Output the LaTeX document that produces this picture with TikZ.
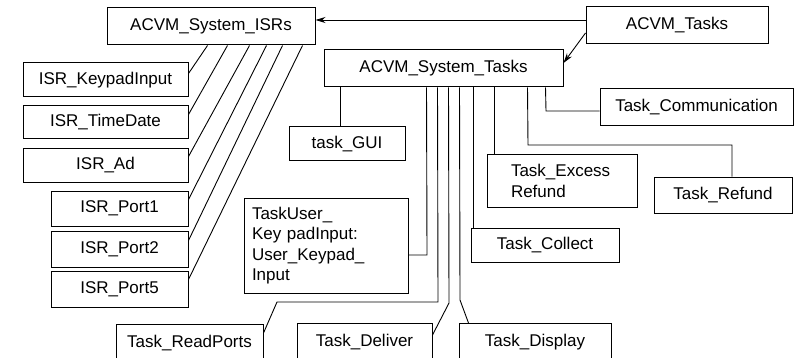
\documentclass[tikz,border=0pt]{standalone}
\usepackage{fontspec}
\setmainfont{Liberation Sans}
\usetikzlibrary{calc,arrows.meta}
\begin{document}
\begin{tikzpicture}[x=1pt,y=-1pt,
  blk/.style={draw, line width=1pt, inner sep=0pt, font=\fontsize{17}{20.5}\selectfont},
  cutblk/.style={blk, anchor=north, text height=12.5pt, text depth=30pt, inner ysep=10pt},
  wire/.style={line width=0.9pt},
  arr/.style={wire,-{Stealth[length=10pt,width=6pt]}}]
\useasboundingbox (0,0) rectangle (794,358);
\clip (0,0) rectangle (794,358);

% top level
\node[blk, minimum width=208, minimum height=37] (isrs) at (211,26.5) {ACVM\_System\_ISRs};
\node[blk, minimum width=182, minimum height=37] (tasks) at (677,25.5) {ACVM\_Tasks};
\node[blk, minimum width=239, minimum height=37] (sys) at (443.5,68.5) {ACVM\_System\_Tasks};

% ISRs
\node[blk, minimum width=165, minimum height=34] (kp) at (105.5,80) {ISR\_KeypadInput};
\node[blk, minimum width=165, minimum height=33] (td) at (105.5,122.5) {ISR\_TimeDate};
\node[blk, minimum width=165, minimum height=33] (ad) at (105.5,165.5) {ISR\_Ad};
\node[blk, minimum width=137, minimum height=35] (p1) at (119.5,208.5) {ISR\_Port1};
\node[blk, minimum width=137, minimum height=36] (p2) at (119.5,249) {ISR\_Port2};
\node[blk, minimum width=137, minimum height=36] (p5) at (119.5,289) {ISR\_Port5};

% tasks
\node[blk, minimum width=116, minimum height=34] (gui) at (347,144) {task\_GUI};
\node[blk, minimum width=164, minimum height=95, text width=148, align=left] (tu) at (326,245.5)
  {TaskUser\_\\Key padInput:\\User\_Keypad\_\\Input};
\node[blk, minimum width=193, minimum height=37] (comm) at (696.5,107.5) {Task\_Communication};
\node[blk, minimum width=150, minimum height=52, text width=102, align=left] (exc) at (562,181)
  {Task\_Excess\\Refund};
\node[blk, minimum width=138, minimum height=36] (ref) at (723,195) {Task\_Refund};
\node[blk, minimum width=148, minimum height=34] (coll) at (545,245) {Task\_Collect};
\node[cutblk, minimum width=147] (rp) at (189.5,324) {Task\_ReadPorts};
\node[cutblk, minimum width=135] (del) at (364.5,323) {Task\_Deliver};
\node[cutblk, minimum width=152] (disp) at (535,323) {Task\_Display};

% arrows from ACVM_Tasks
\draw[arr] ($(tasks.west)+(0,-5.5)$) -- ($(isrs.east)+(0,-6.5)$);
\draw[arr] ($(tasks.west)+(0,7.5)$) -- ($(sys.east)+(0,-5.5)$);

% ISR connectors
\draw[wire] ($(isrs.south west)+(101,0)$) -- ($(kp.north east)+(0,11)$);
\draw[wire] ($(isrs.south west)+(121,0)$) -- ($(td.north east)+(0,9)$);
\draw[wire] ($(isrs.south west)+(143,0)$) -- ($(ad.north east)+(0,8)$);
\draw[wire] ($(isrs.south west)+(160,0)$) -- ($(p1.north east)+(0,9)$);
\draw[wire] ($(isrs.south west)+(176,0)$) -- ($(p2.north east)+(0,10)$);
\draw[wire] ($(isrs.south west)+(196,0)$) -- ($(p5.north east)+(0,9)$);

% system task connectors
\coordinate (s1) at ($(sys.south west)+(17,0)$);
\coordinate (s2) at ($(sys.south west)+(103,0)$);
\coordinate (s3) at ($(sys.south west)+(114,0)$);
\coordinate (s4) at ($(sys.south west)+(125,0)$);
\coordinate (s5) at ($(sys.south west)+(136,0)$);
\coordinate (s6) at ($(sys.south west)+(150,0)$);
\coordinate (s7) at ($(sys.south west)+(171,0)$);
\coordinate (s8) at ($(sys.south west)+(204,0)$);
\coordinate (s9) at ($(sys.south west)+(222,0)$);

\coordinate (j2) at (427,255);
\coordinate (j3a) at (438,302);
\coordinate (j3b) at (277,302);
\coordinate (j4) at (449,303);
\coordinate (j5) at (460,300);
\coordinate (j8a) at (528,145);
\coordinate (j8b) at (732,145);
\coordinate (j9) at (546,111);

\draw[wire] (s1) -- (s1 |- gui.north);
\draw[wire] (s2) -- (j2) -- (tu.east |- j2);
\draw[wire] (s3) -- (j3a) -- (j3b) -- ($(rp.north east)+(0,9)$);
\draw[wire] (s4) -- (j4) -- ($(del.north east)+(0,12)$);
\draw[wire] (s5) -- (j5) -- ($(disp.north west)+(10,0)$);
\draw[wire] (s6) -- (s6 |- coll.north);
\draw[wire] (s7) -- (s7 |- exc.north);
\draw[wire] (s8) -- (j8a) -- (j8b) -- (j8b |- ref.north);
\draw[wire] (s9) -- (j9) -- (comm.west |- j9);
\end{tikzpicture}
\end{document}
